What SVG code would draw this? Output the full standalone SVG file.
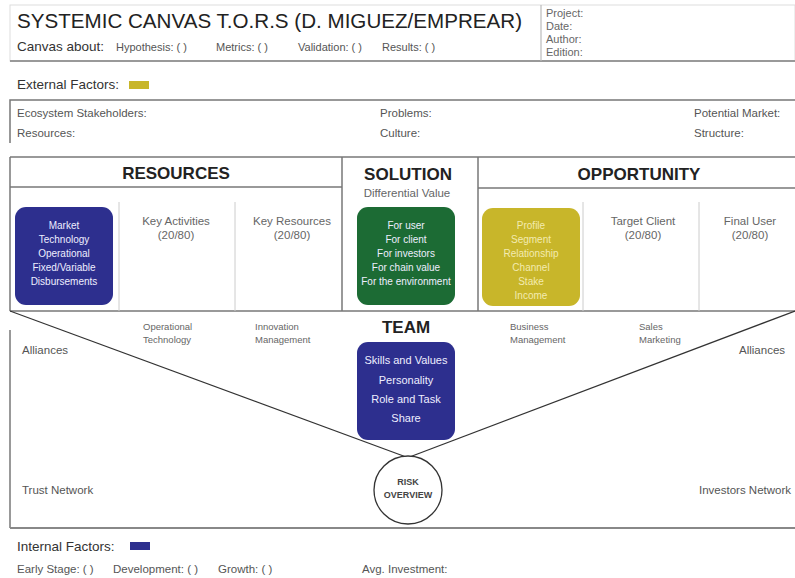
<svg xmlns="http://www.w3.org/2000/svg" width="795" height="578" viewBox="0 0 795 578">
  <style>
    text { font-family: "Liberation Sans", Arial, sans-serif; }
    .title { font-size: 21px; fill: #222; }
    .lbl { font-size: 11.5px; fill: #555; }
    .hdr { font-size: 11px; fill: #666; }
    .sm { font-size: 9.5px; fill: #666; }
    .mid { font-size: 11.5px; fill: #555; }
    .head { font-size: 17px; font-weight: bold; fill: #222; text-anchor: middle; }
    .cap { font-size: 13.5px; fill: #333; }
    .sub { font-size: 11.5px; fill: #666; text-anchor: middle; }
    .boxt { font-size: 10px; fill: #eef; text-anchor: middle; }
    .teamt { font-size: 11px; fill: #eef; text-anchor: middle; }
    .boxy { font-size: 10px; fill: #f3ebb0; text-anchor: middle; }
    .risk { font-size: 9px; font-weight: bold; fill: #444; text-anchor: middle; }
    .line { stroke: #777; stroke-width: 1.5; fill: none; }
    .thin { stroke: #ccc; stroke-width: 1; fill: none; }
    .navy { fill: #2d2f8e; }
    .green { fill: #1c6b34; }
    .yellow { fill: #c8b62a; }
  </style>

  <rect width="795" height="578" fill="#fff"/>

  <!-- header -->
  <g id="header">
    <rect x="10" y="5" width="785" height="56" fill="#fff" stroke="#ddd" stroke-width="1"/>
    <line x1="10" y1="61" x2="795" y2="61" stroke="#999" stroke-width="2"/>
    <line x1="541" y1="5" x2="541" y2="61" stroke="#bbb" stroke-width="1.2"/>
    <text class="title" x="17" y="28" textLength="505" lengthAdjust="spacingAndGlyphs">SYSTEMIC CANVAS T.O.R.S (D. MIGUEZ/EMPREAR)</text>
    <text class="cap" x="17" y="51">Canvas about:</text>
    <text class="lbl" x="116" y="51" style="font-size:11px">Hypothesis: ( )</text>
    <text class="lbl" x="216" y="51" style="font-size:11px">Metrics: ( )</text>
    <text class="lbl" x="298" y="51" style="font-size:11px">Validation: ( )</text>
    <text class="lbl" x="382" y="51" style="font-size:11px">Results: ( )</text>
    <text class="hdr" x="546" y="17">Project:</text>
    <text class="hdr" x="546" y="30">Date:</text>
    <text class="hdr" x="546" y="43">Author:</text>
    <text class="hdr" x="546" y="56">Edition:</text>
  </g>

  <!-- external factors -->
  <g id="external">
    <text class="cap" x="17" y="89">External Factors:</text>
    <rect class="yellow" x="129" y="81" width="20" height="8"/>
    <polyline class="line" points="10,143 10,100 795,100"/>
    <text class="lbl" x="17" y="117">Ecosystem Stakeholders:</text>
    <text class="lbl" x="17" y="137">Resources:</text>
    <text class="lbl" x="380" y="117">Problems:</text>
    <text class="lbl" x="380" y="137">Culture:</text>
    <text class="lbl" x="694" y="117">Potential Market:</text>
    <text class="lbl" x="694" y="137">Structure:</text>
  </g>

  <!-- canvas frame and dividers -->
  <g id="connectors">
    <line class="line" x1="10" y1="157" x2="795" y2="157"/>
    <line class="line" x1="10" y1="157" x2="10" y2="311"/>
    <line class="line" x1="10" y1="330" x2="10" y2="528"/>
    <line class="line" x1="10" y1="311" x2="795" y2="311"/>
    <line x1="10" y1="528" x2="795" y2="528" stroke="#888" stroke-width="2"/>
    <line class="line" x1="342" y1="157" x2="342" y2="311"/>
    <line class="line" x1="478" y1="157" x2="478" y2="311"/>
    <line class="line" x1="10" y1="187" x2="342" y2="187"/>
    <line class="line" x1="478" y1="188" x2="795" y2="188"/>
    <line class="thin" x1="119" y1="202" x2="119" y2="311"/>
    <line class="thin" x1="235" y1="202" x2="235" y2="311"/>
    <line class="thin" x1="583" y1="202" x2="583" y2="311"/>
    <line class="thin" x1="699" y1="202" x2="699" y2="311"/>
    <line x1="10" y1="311" x2="417" y2="461" stroke="#333" stroke-width="1.2"/>
    <line x1="795" y1="311" x2="399" y2="461" stroke="#333" stroke-width="1.2"/>
  </g>

  <!-- resources -->
  <g id="resources">
    <text class="head" x="176" y="179">RESOURCES</text>
    <rect class="navy" x="15" y="207" width="98" height="98" rx="11"/>
    <text class="boxt" x="64" y="229">Market</text>
    <text class="boxt" x="64" y="243">Technology</text>
    <text class="boxt" x="64" y="257">Operational</text>
    <text class="boxt" x="64" y="271">Fixed/Variable</text>
    <text class="boxt" x="64" y="285">Disbursements</text>
  </g>
  <g id="key-activities">
    <text class="sub" x="176" y="225">Key Activities</text>
    <text class="sub" x="176" y="239">(20/80)</text>
  </g>
  <g id="key-resources">
    <text class="sub" x="292" y="225">Key Resources</text>
    <text class="sub" x="292" y="239">(20/80)</text>
  </g>

  <!-- solution -->
  <g id="solution">
    <text class="head" x="408" y="180">SOLUTION</text>
    <text class="sub" x="407" y="197">Differential Value</text>
    <rect class="green" x="357" y="207" width="98" height="98" rx="11"/>
    <text class="boxt" x="406" y="229">For user</text>
    <text class="boxt" x="406" y="243">For client</text>
    <text class="boxt" x="406" y="257">For investors</text>
    <text class="boxt" x="406" y="271">For chain value</text>
    <text class="boxt" x="406" y="285">For the environment</text>
  </g>

  <!-- opportunity -->
  <g id="opportunity">
    <text class="head" x="639" y="180">OPPORTUNITY</text>
    <rect class="yellow" x="482" y="208" width="98" height="98" rx="11"/>
    <text class="boxy" x="531" y="229">Profile</text>
    <text class="boxy" x="531" y="243">Segment</text>
    <text class="boxy" x="531" y="257">Relationship</text>
    <text class="boxy" x="531" y="271">Channel</text>
    <text class="boxy" x="531" y="285">Stake</text>
    <text class="boxy" x="531" y="299">Income</text>
  </g>
  <g id="target-client">
    <text class="sub" x="643" y="225">Target Client</text>
    <text class="sub" x="643" y="239">(20/80)</text>
  </g>
  <g id="final-user">
    <text class="sub" x="750" y="225">Final User</text>
    <text class="sub" x="750" y="239">(20/80)</text>
  </g>

  <!-- team -->
  <g id="team">
    <text class="head" x="406" y="333">TEAM</text>
    <rect class="navy" x="357" y="342" width="98" height="98" rx="11"/>
    <text class="teamt" x="406" y="364">Skills and Values</text>
    <text class="teamt" x="406" y="384">Personality</text>
    <text class="teamt" x="406" y="403">Role and Task</text>
    <text class="teamt" x="406" y="422">Share</text>
  </g>

  <!-- risk overview -->
  <g id="risk">
    <circle cx="408" cy="490" r="34" fill="#fff" stroke="#333" stroke-width="1.3"/>
    <text class="risk" x="408" y="485">RISK</text>
    <text class="risk" x="408" y="498">OVERVIEW</text>
  </g>

  <!-- lower labels -->
  <g id="lower-labels">
    <text class="mid" x="22" y="354">Alliances</text>
    <text class="mid" x="739" y="354">Alliances</text>
    <text class="sm" x="143" y="330">Operational</text>
    <text class="sm" x="143" y="343">Technology</text>
    <text class="sm" x="255" y="330">Innovation</text>
    <text class="sm" x="255" y="343">Management</text>
    <text class="sm" x="510" y="330">Business</text>
    <text class="sm" x="510" y="343">Management</text>
    <text class="sm" x="639" y="330">Sales</text>
    <text class="sm" x="639" y="343">Marketing</text>
    <text class="mid" x="22" y="494">Trust Network</text>
    <text class="mid" x="699" y="494">Investors Network</text>
  </g>

  <!-- internal factors -->
  <g id="internal">
    <text class="cap" x="17" y="551">Internal Factors:</text>
    <rect class="navy" x="130" y="542" width="20" height="8"/>
    <text class="lbl" x="17" y="573">Early Stage: ( )</text>
    <text class="lbl" x="113" y="573">Development: ( )</text>
    <text class="lbl" x="218" y="573">Growth: ( )</text>
    <text class="lbl" x="362" y="573">Avg. Investment:</text>
  </g>
</svg>
